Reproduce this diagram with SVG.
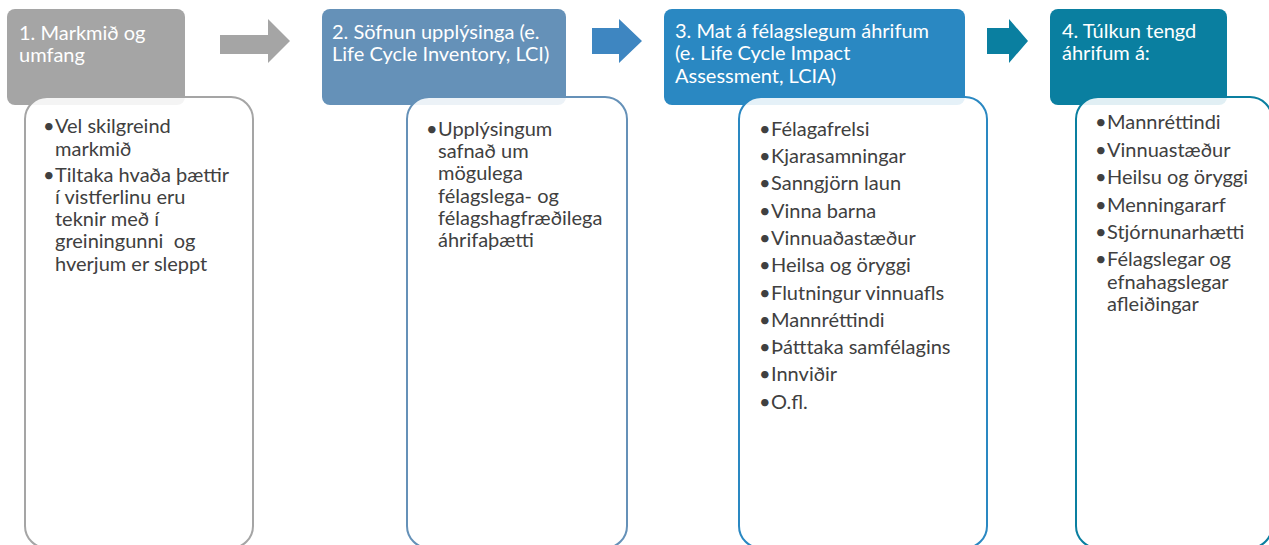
<svg xmlns="http://www.w3.org/2000/svg" width="1269" height="545" viewBox="0 0 1269 545">
<style>
.hdr{font-family:Lato,"Open Sans","Liberation Sans",sans-serif;font-size:20px;fill:#ffffff}
.txt{font-family:Lato,"Open Sans","Liberation Sans",sans-serif;font-size:20px;fill:#404040}
.body{fill:#ffffff;fill-opacity:0.88;stroke-width:2}
</style>
<rect width="1269" height="545" fill="#ffffff"/>
<g id="connectors">
<polygon points="220,35 268,35 268,19 290,41 268,63 268,54 220,54" fill="#a5a5a5"/>
<polygon points="592,28 619,28 619,19 642,41 619,63 619,54 592,54" fill="#3e86c1"/>
<polygon points="987,28 1009,28 1009,19 1028,41 1009,63 1009,54 987,54" fill="#0a7fa0"/>
</g>
<g id="step1">
<rect x="7" y="9" width="178" height="96" rx="8" fill="#a5a5a5"/>
<text class="hdr"><tspan x="19" y="39.5">1. Markmið og</tspan><tspan x="19" y="61.7">umfang</tspan></text>
<rect class="body" x="25" y="97" width="228" height="451" rx="22" stroke="#a5a5a5"/>
<text class="txt"><tspan x="43" y="133.3">•</tspan><tspan x="55" y="133.3">Vel skilgreind</tspan><tspan x="55" y="155.5">markmið</tspan><tspan x="43" y="181.7">•</tspan><tspan x="55" y="181.7">Tiltaka hvaða þættir</tspan><tspan x="55" y="203.9">í vistferlinu eru</tspan><tspan x="55" y="226.1">teknir með í</tspan><tspan x="55" y="248.3" xml:space="preserve">greiningunni  og</tspan><tspan x="55" y="270.5">hverjum er sleppt</tspan></text>
</g>
<g id="step2">
<rect x="322" y="9" width="244" height="96" rx="8" fill="#6591b8"/>
<text class="hdr"><tspan x="332" y="38.5">2. Söfnun upplýsinga (e.</tspan><tspan x="332" y="60.7">Life Cycle Inventory, LCI)</tspan></text>
<rect class="body" x="407" y="97" width="220" height="451" rx="22" stroke="#6591b8"/>
<text class="txt"><tspan x="426" y="135.7">•</tspan><tspan x="438" y="135.7">Upplýsingum</tspan><tspan x="438" y="158">safnað um</tspan><tspan x="438" y="180.3">mögulega</tspan><tspan x="438" y="202.6">félagslega- og</tspan><tspan x="438" y="224.9">félagshagfræðilega</tspan><tspan x="438" y="247.2">áhrifaþætti</tspan></text>
</g>
<g id="step3">
<rect x="664" y="9" width="301" height="96" rx="8" fill="#2a88c2"/>
<text class="hdr"><tspan x="675" y="37.5">3. Mat á félagslegum áhrifum</tspan><tspan x="675" y="60">(e. Life Cycle Impact</tspan><tspan x="675" y="82.7">Assessment, LCIA)</tspan></text>
<rect class="body" x="739" y="97" width="248" height="451" rx="22" stroke="#2a88c2"/>
<text class="txt">
<tspan x="759" y="135.7">•</tspan><tspan x="771" y="135.7">Félagafrelsi</tspan>
<tspan x="759" y="163">•</tspan><tspan x="771" y="163">Kjarasamningar</tspan>
<tspan x="759" y="190.3">•</tspan><tspan x="771" y="190.3">Sanngjörn laun</tspan>
<tspan x="759" y="217.6">•</tspan><tspan x="771" y="217.6">Vinna barna</tspan>
<tspan x="759" y="244.9">•</tspan><tspan x="771" y="244.9">Vinnuaðastæður</tspan>
<tspan x="759" y="272.2">•</tspan><tspan x="771" y="272.2">Heilsa og öryggi</tspan>
<tspan x="759" y="299.5">•</tspan><tspan x="771" y="299.5">Flutningur vinnuafls</tspan>
<tspan x="759" y="326.8">•</tspan><tspan x="771" y="326.8">Mannréttindi</tspan>
<tspan x="759" y="354.1">•</tspan><tspan x="771" y="354.1">Þátttaka samfélagins</tspan>
<tspan x="759" y="381.4">•</tspan><tspan x="771" y="381.4">Innviðir</tspan>
<tspan x="759" y="408.7">•</tspan><tspan x="771" y="408.7">O.fl.</tspan>
</text>
</g>
<g id="step4">
<rect x="1050" y="9" width="177" height="96" rx="8" fill="#0a7fa0"/>
<text class="hdr"><tspan x="1062" y="37.5">4. Túlkun tengd</tspan><tspan x="1062" y="60">áhrifum á:</tspan></text>
<rect class="body" x="1076" y="97" width="196" height="451" rx="22" stroke="#0a7fa0"/>
<text class="txt">
<tspan x="1095" y="129.3">•</tspan><tspan x="1107" y="129.3">Mannréttindi</tspan>
<tspan x="1095" y="156.7">•</tspan><tspan x="1107" y="156.7">Vinnuastæður</tspan>
<tspan x="1095" y="184.1">•</tspan><tspan x="1107" y="184.1">Heilsu og öryggi</tspan>
<tspan x="1095" y="211.5">•</tspan><tspan x="1107" y="211.5">Menningararf</tspan>
<tspan x="1095" y="238.9">•</tspan><tspan x="1107" y="238.9">Stjórnunarhætti</tspan>
<tspan x="1095" y="266.3">•</tspan><tspan x="1107" y="266.3">Félagslegar og</tspan>
<tspan x="1107" y="288.6">efnahagslegar</tspan>
<tspan x="1107" y="310.9">afleiðingar</tspan>
</text>
</g>
</svg>
